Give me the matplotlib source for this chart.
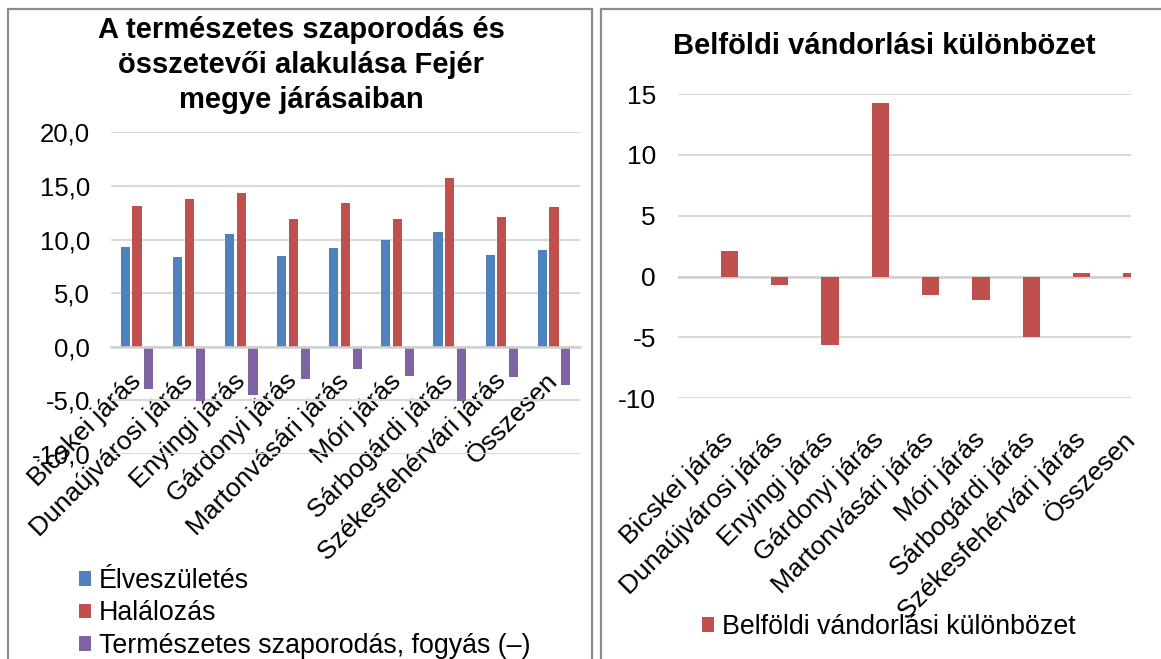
import matplotlib
matplotlib.use("Agg")
import matplotlib.pyplot as plt
from matplotlib.patches import Rectangle
from matplotlib.ticker import FuncFormatter
from matplotlib.transforms import blended_transform_factory, offset_copy

plt.rcParams['font.family'] = ['Liberation Sans', 'DejaVu Sans']
plt.rcParams['axes.unicode_minus'] = False

categories = ["Bicskei járás", "Dunaújvárosi járás", "Enyingi járás", "Gárdonyi járás",
              "Martonvásári járás", "Móri járás", "Sárbogárdi járás",
              "Székesfehérvári járás", "Összesen"]
births = [9.3, 8.4, 10.5, 8.5, 9.2, 10.0, 10.7, 8.6, 9.0]
deaths = [13.1, 13.8, 14.3, 11.9, 13.4, 11.9, 15.7, 12.1, 13.0]
natural = [-3.9, -5.1, -4.5, -3.0, -2.1, -2.7, -5.1, -2.8, -3.6]
migration = [2.1, -0.7, -5.6, 14.3, -1.5, -1.9, -5.0, 0.3, 0.3]

left_title = "A természetes szaporodás és\nösszetevői alakulása Fejér\nmegye járásaiban"
right_title = "Belföldi vándorlási különbözet"
left_series = ["Élveszületés", "Halálozás", "Természetes szaporodás, fogyás (–)"]
right_series = "Belföldi vándorlási különbözet"

BLUE, RED, PURPLE = "#4F81BD", "#C0504D", "#8064A2"
GRID = "#D9D9D9"
CAT_FS = 19
LEG_FS = 19.3
TITLE_FS = 21

W, H = 1161, 659
fig = plt.figure(figsize=(W / 100, H / 100), dpi=100)

def box(x0, y0, x1, y1):
    return [x0 / W, 1 - y1 / H, (x1 - x0) / W, (y1 - y0) / H]

# panel borders
fig.patches.append(Rectangle((8 / W, -0.1), (592 - 8) / W, 1 - 9 / H + 0.1,
                             transform=fig.transFigure, fill=False,
                             edgecolor="#8C8C8C", lw=1.6, clip_on=False))
fig.patches.append(Rectangle((601 / W, -0.1), 1.0, 1 - 9 / H + 0.1,
                             transform=fig.transFigure, fill=False,
                             edgecolor="#8C8C8C", lw=1.6, clip_on=False))

# ---------------- left chart ----------------
axL = fig.add_axes(box(111, 132.3, 580, 453.9))
x = list(range(len(categories)))
bw = 0.175
off = 0.225
axL.bar([i - off for i in x], births, bw, color=BLUE, label=left_series[0], zorder=2)
axL.bar(x, deaths, bw, color=RED, label=left_series[1], zorder=2)
axL.bar([i + off for i in x], natural, bw, color=PURPLE, label=left_series[2], zorder=2)
axL.set_xlim(-0.5, len(categories) - 0.5)
axL.set_ylim(-10, 20)
axL.set_yticks([-10, -5, 0, 5, 10, 15, 20])
axL.yaxis.set_major_formatter(FuncFormatter(lambda v, p: f"{v:.1f}".replace(".", ",")))
axL.grid(axis='y', color=GRID, lw=1.5, zorder=0)
axL.set_axisbelow(True)
for s in ['top', 'right', 'left']:
    axL.spines[s].set_visible(False)
axL.spines['bottom'].set_position(('data', 0))
axL.spines['bottom'].set_color("#D0D0D0")
axL.spines['bottom'].set_linewidth(1.8)
axL.spines['bottom'].set_zorder(3)
axL.set_xticks(x)
axL.set_xticklabels(categories, rotation=45, ha='right', va='center',
                    rotation_mode='anchor', fontsize=CAT_FS)
axL.tick_params(axis='x', length=0, pad=22)
axL.tick_params(axis='y', length=0, pad=15, labelsize=18.5)

fig.text(301 / W, 1 - 65 / H, left_title, ha='center', va='center',
         fontsize=TITLE_FS, fontweight='bold', linespacing=1.32)

hL, lL = axL.get_legend_handles_labels()
fig.legend(hL, lL, loc='upper left', bbox_to_anchor=(79 / W, 1 - 568 / H),
           frameon=False, fontsize=LEG_FS, handlelength=0.45, handleheight=0.45,
           handletextpad=0.3, labelspacing=0.24, borderpad=0, borderaxespad=0)

# ---------------- right chart ----------------
axR = fig.add_axes(box(678, 94, 1131, 398.3))
axR.bar([i + 0.52 for i in x], migration, 0.34, color=RED, label=right_series, zorder=2)
axR.set_xlim(-0.5, len(categories) - 0.5)
axR.set_ylim(-10, 15)
axR.set_yticks([-10, -5, 0, 5, 10, 15])
axR.grid(axis='y', color=GRID, lw=1.5, zorder=0)
axR.axhline(0, color="#D0D0D0", lw=1.8, zorder=1)
axR.set_axisbelow(True)
for s in ['top', 'right', 'left', 'bottom']:
    axR.spines[s].set_visible(False)
axR.set_xticks([])
lab_trans = offset_copy(blended_transform_factory(axR.transData, axR.transAxes),
                        fig=fig, x=0, y=-27, units='points')
for i, c in zip(x, categories):
    axR.text(i + 0.52, 0, c, transform=lab_trans, rotation=45, ha='right',
             va='center', rotation_mode='anchor', fontsize=CAT_FS, clip_on=False)
axR.tick_params(axis='y', length=0, pad=16, labelsize=19)

fig.text(884 / W, 1 - 46 / H, right_title, ha='center', va='center',
         fontsize=TITLE_FS, fontweight='bold')

hR, lR = axR.get_legend_handles_labels()
fig.legend(hR, lR, loc='center left', bbox_to_anchor=(702 / W, 1 - 627 / H),
           frameon=False, fontsize=LEG_FS, handlelength=0.45, handleheight=0.45,
           handletextpad=0.3, borderpad=0, borderaxespad=0)

fig.savefig("out.png", dpi=100)
